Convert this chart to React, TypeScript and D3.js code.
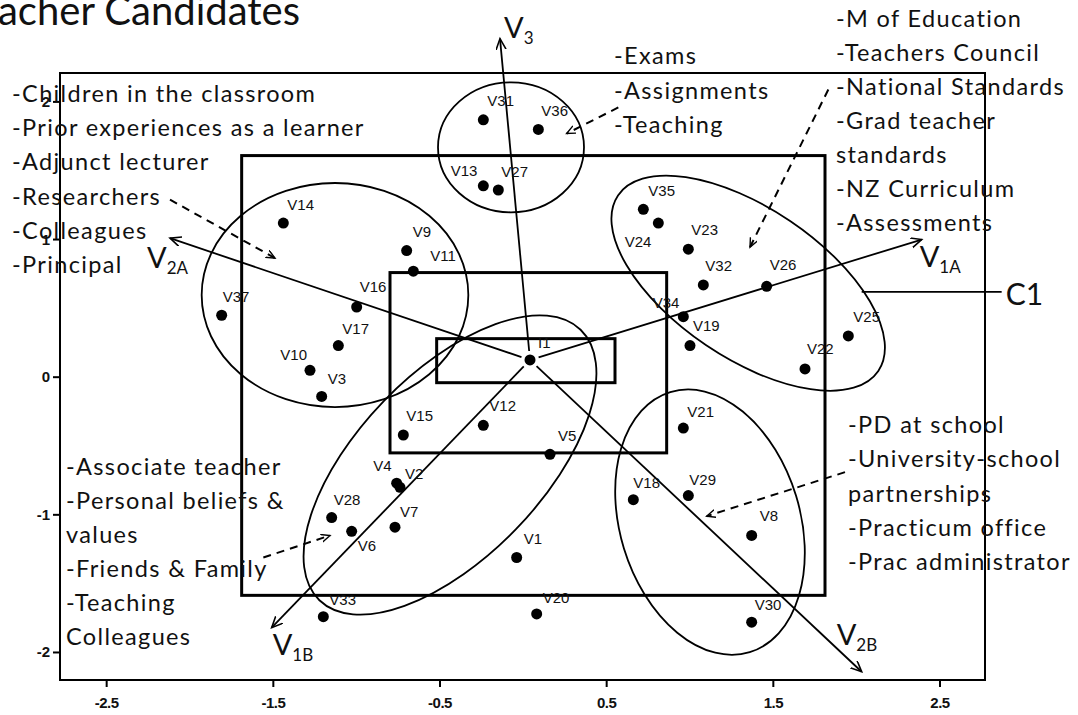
import React from 'react';
import * as d3 from 'd3';

const W = 1078;
const H = 715;

// variable coordinates (dimension 1 / dimension 2)
const varNames = ['V31', 'V36', 'V13', 'V27', 'V14', 'V9', 'V11', 'V37', 'V16', 'V17', 'V10', 'V3',
  'V35', 'V24', 'V23', 'V32', 'V26', 'V34', 'V19', 'V22', 'V25', 'I1', 'V15', 'V12', 'V5', 'V4', 'V2',
  'V28', 'V6', 'V7', 'V1', 'V33', 'V20', 'V21', 'V18', 'V29', 'V8', 'V30'];
const dim1 = [-0.24, 0.09, -0.24, -0.15, -1.44, -0.70, -0.66, -1.81, -1.00, -1.11, -1.28, -1.21,
  0.72, 0.81, 0.99, 1.08, 1.46, 0.96, 1.00, 1.69, 1.95, 0.04, -0.72, -0.24, 0.16, -0.76, -0.74,
  -1.15, -1.03, -0.77, -0.04, -1.20, 0.08, 0.96, 0.66, 0.99, 1.37, 1.37];
const dim2 = [1.87, 1.80, 1.39, 1.36, 1.12, 0.92, 0.77, 0.45, 0.51, 0.23, 0.05, -0.14,
  1.22, 1.12, 0.93, 0.67, 0.66, 0.44, 0.23, 0.06, 0.30, 0.125, -0.42, -0.35, -0.56, -0.77, -0.80,
  -1.02, -1.12, -1.09, -1.31, -1.74, -1.72, -0.37, -0.89, -0.86, -1.15, -1.78];

// where each point label sits relative to its dot
const labelPos: Record<string, [number, number, string]> = {
  V31: [4, -14, 'start'], V36: [3, -13, 'start'], V13: [-6, -10, 'end'], V27: [3, -13, 'start'],
  V14: [4, -13, 'start'], V9: [6, -14, 'start'], V11: [17, -10, 'start'], V37: [1, -13, 'start'],
  V16: [3, -15, 'start'], V17: [4, -12, 'start'], V10: [-3, -10, 'end'], V3: [6, -12, 'start'],
  V35: [5, -13, 'start'], V24: [-7, 24, 'end'], V23: [3, -14, 'start'], V32: [2, -14, 'start'],
  V26: [3, -16, 'start'], V34: [-4, -9, 'end'], V19: [3, -15, 'start'], V22: [2, -15, 'start'],
  V25: [5, -14, 'start'], I1: [8, -12, 'start'], V15: [3, -14, 'start'], V12: [6, -14, 'start'],
  V5: [8, -13, 'start'], V4: [-5, -12, 'end'], V2: [5, -8, 'start'], V28: [2, -13, 'start'],
  V6: [6, 20, 'start'], V7: [5, -10, 'start'], V1: [7, -13, 'start'], V33: [6, -12, 'start'],
  V20: [6, -11, 'start'], V21: [4, -11, 'start'], V18: [0, -12, 'start'], V29: [1, -11, 'start'],
  V8: [8, -14, 'start'], V30: [3, -12, 'start'],
};

// biplot vectors
const vectorOrigin = [0.04, 0.125];
const vectorNames = ['V3', 'V2A', 'V1A', 'V1B', 'V2B'];
const vectorX = [-0.14, -2.12, 2.39, -1.51, 2.03];
const vectorY = [2.46, 1.01, 1.0, -1.82, -2.14];
const vectorLabelOffset = [[4, -1], [-23, 30], [-2, 27], [1, 27], [-25, -27]];

// clusters (ellipses, in data units) and nested boxes
const clusterCx = [-0.074, -1.13, 1.349, -0.44, 1.12];
const clusterCy = [1.67, 0.597, 0.683, -0.638, -1.053];
const clusterRx = [0.438, 0.80, 0.942, 1.128, 0.54];
const clusterRy = [0.472, 0.814, 0.545, 0.669, 0.988];
const clusterRot = [0, 0, 34, -46, -17];

const boxX0 = [-1.69, -0.8, -0.52];
const boxX1 = [1.81, 0.86, 0.55];
const boxY0 = [-1.585, -0.55, -0.04];
const boxY1 = [1.61, 0.76, 0.28];

// dashed pointer arrows from the text groups into clusters
const pointerFrom = [[-2.12, 1.29], [0.57, 1.96], [1.83, 2.09], [-1.56, -1.31], [1.93, -0.69]];
const pointerTo = [[-1.49, 0.865], [0.26, 1.77], [1.36, 0.945], [-1.16, -1.15], [1.10, -1.01]];

const xTicks = [-2.5, -1.5, -0.5, 0.5, 1.5, 2.5];
const yTicks = [-2, -1, 0, 1, 2];

const groupTopLeft = ['-Children in the classroom', '-Prior experiences as a learner', '-Adjunct lecturer',
  '-Researchers', '-Colleagues', '-Principal'];
const groupTopMid = ['-Exams', '-Assignments', '-Teaching'];
const groupTopRight = ['-M of Education', '-Teachers Council', '-National Standards', '-Grad teacher',
  'standards', '-NZ Curriculum', '-Assessments'];
const groupBottomLeft = ['-Associate teacher', '-Personal beliefs &', 'values', '-Friends & Family',
  '-Teaching', 'Colleagues'];
const groupBottomRight = ['-PD at school', '-University-school', 'partnerships', '-Practicum office',
  '-Prac administrator'];

const annoFont = 'Lato, "Open Sans", sans-serif';

const TextBlock = ({ lines, x, y, step }: { lines: string[]; x: number; y: number; step: number }) => (
  <g fontFamily={annoFont} fontSize={23.5} letterSpacing={1.35} fill="#111">
    {lines.map((t, i) => (
      <text key={i} x={x} y={y + i * step} style={{ whiteSpace: 'pre' }}>{t}</text>
    ))}
  </g>
);

const App = () => {
  const frame = { left: 60, right: 985, top: 73, bottom: 680 };
  const x = d3.scaleLinear().domain([-2.78, 2.77]).range([frame.left, frame.right]);
  const y = d3.scaleLinear().domain([-2.2, 2.21]).range([frame.bottom, frame.top]);
  const kx = x(1) - x(0);
  const ky = y(0) - y(1);

  const ox = x(vectorOrigin[0]);
  const oy = y(vectorOrigin[1]);

  return (
    <svg width={W} height={H} style={{ position: 'absolute', left: 0, top: 0, background: '#fff' }}>
      <defs>
        <marker id="arr" markerUnits="userSpaceOnUse" markerWidth={14} markerHeight={12}
          refX={11} refY={5} orient="auto">
          <path d="M0,0 L11,5 L0,10" fill="none" stroke="#000" strokeWidth={1.6} />
        </marker>
        <marker id="arrSmall" markerUnits="userSpaceOnUse" markerWidth={12} markerHeight={10}
          refX={9} refY={4} orient="auto">
          <path d="M0,0 L9,4 L0,8" fill="none" stroke="#000" strokeWidth={1.4} />
        </marker>
      </defs>
      <rect width={W} height={H} fill="#fff" />

      {/* title, clipped at the left edge */}
      <text x={300} y={25} textAnchor="end" fontFamily={annoFont} fontSize={40} fill="#111">
        Teacher Candidates
      </text>

      {/* plot frame */}
      <rect x={frame.left} y={frame.top} width={frame.right - frame.left} height={frame.bottom - frame.top}
        fill="none" stroke="#000" strokeWidth={2} />

      {/* axes ticks */}
      {xTicks.map(t => (
        <g key={'x' + t}>
          <line x1={x(t)} x2={x(t)} y1={frame.bottom} y2={frame.bottom + 7} stroke="#000" strokeWidth={2} />
          <text x={x(t)} y={frame.bottom + 28} textAnchor="middle" fontFamily="Liberation Sans, Arial"
            fontWeight="bold" fontSize={15} letterSpacing={-0.5} fill="#111">{t}</text>
        </g>
      ))}
      {yTicks.map(t => (
        <g key={'y' + t}>
          <line x1={frame.left - 7} x2={frame.left} y1={y(t)} y2={y(t)} stroke="#000" strokeWidth={2} />
          <text x={frame.left - 10} y={y(t) + 5} textAnchor="end" fontFamily="Liberation Sans, Arial"
            fontWeight="bold" fontSize={15} fill="#111">{t}</text>
        </g>
      ))}

      {/* nested boxes */}
      {boxX0.map((b, i) => (
        <rect key={'box' + i} x={x(b)} y={y(boxY1[i])} width={x(boxX1[i]) - x(b)}
          height={y(boxY0[i]) - y(boxY1[i])} fill="none" stroke="#000" strokeWidth={3} />
      ))}

      {/* clusters */}
      {clusterCx.map((c, i) => (
        <ellipse key={'cl' + i} cx={0} cy={0} rx={clusterRx[i] * kx} ry={clusterRy[i] * ky}
          transform={`translate(${x(c)},${y(clusterCy[i])}) rotate(${clusterRot[i]})`}
          fill="none" stroke="#000" strokeWidth={1.8} />
      ))}

      {/* vectors */}
      {vectorNames.map((name, i) => {
        const ex = x(vectorX[i]);
        const ey = y(vectorY[i]);
        const len = Math.hypot(ex - ox, ey - oy);
        const sx = ox + ((ex - ox) / len) * 9;
        const sy = oy + ((ey - oy) / len) * 9;
        const [dx, dy] = vectorLabelOffset[i];
        return (
          <g key={name}>
            <line x1={sx} y1={sy} x2={ex} y2={ey} stroke="#000" strokeWidth={1.8} markerEnd="url(#arr)" />
            <text x={ex + dx} y={ey + dy} fontFamily={annoFont} fontSize={29} fill="#111">
              V<tspan fontSize={17} dy={6}>{name.slice(1)}</tspan>
            </text>
          </g>
        );
      })}

      {/* C1 pointer */}
      <line x1={x(2.03)} x2={x(2.87)} y1={y(0.62)} y2={y(0.62)} stroke="#000" strokeWidth={1.6} />
      <text x={x(2.87) + 4} y={y(0.62) + 13} fontFamily={annoFont} fontSize={30} fill="#111">C1</text>

      {/* dashed pointers */}
      {pointerFrom.map((p, i) => (
        <line key={'pt' + i} x1={x(p[0])} y1={y(p[1])} x2={x(pointerTo[i][0])} y2={y(pointerTo[i][1])}
          stroke="#000" strokeWidth={2} strokeDasharray="8,6" markerEnd="url(#arrSmall)" />
      ))}

      {/* points */}
      {varNames.map((n, i) => {
        const px = x(dim1[i]);
        const py = y(dim2[i]);
        const [dx, dy, anchor] = labelPos[n] || [4, -12, 'start'];
        return (
          <g key={n}>
            <circle cx={px} cy={py} r={5.5} fill="#000" />
            <text x={px + dx} y={py + dy} textAnchor={anchor} fontFamily="Liberation Sans, Arial"
              fontSize={15} fill="#111">{n}</text>
          </g>
        );
      })}

      {/* text groups */}
      <TextBlock lines={groupTopLeft} x={12} y={102} step={34.2} />
      <TextBlock lines={groupTopMid} x={614} y={64} step={34.5} />
      <TextBlock lines={groupTopRight} x={836} y={27} step={34} />
      <TextBlock lines={groupBottomLeft} x={66} y={475} step={34} />
      <TextBlock lines={groupBottomRight} x={848} y={433} step={34.3} />
    </svg>
  );
};

export default App;
